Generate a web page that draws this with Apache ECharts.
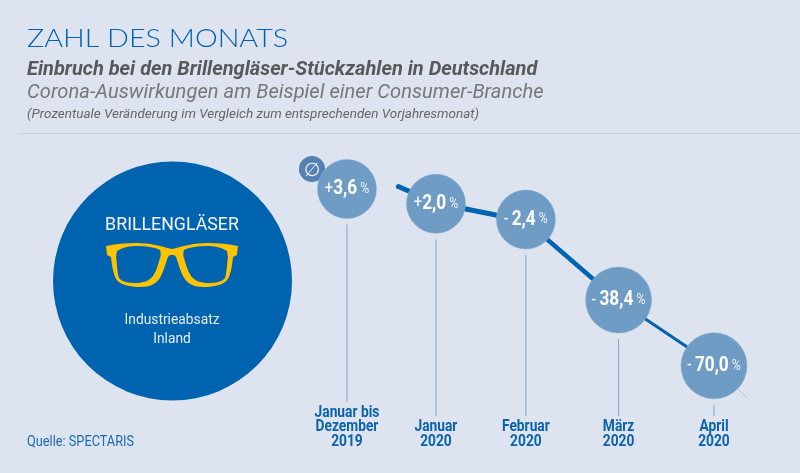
<!DOCTYPE html>
<html><head><meta charset="utf-8">
<style>html,body{margin:0;padding:0;background:#dde4ef}#c{width:800px;height:473px}</style>
<script src="https://cdn.jsdelivr.net/npm/echarts@6/dist/echarts.min.js"></script>
</head><body><div id="c"></div>
<script>
// Period labels
const categories = ['Januar bis\nDezember\n2019', 'Januar\n2020', 'Februar\n2020', 'März\n2020', 'April\n2020'];
// Printed change in percent
const changePercent = [3.6, 2.0, -2.4, -38.4, -70.0];
// The picture's layout is schematic, not proportional: slot and drop of each bubble
const slot = [0, 0.97, 1.95, 2.96, 4.0];
const drop = [15.6, 21.5, 27.8, 60, 86.3];
// Trend ribbon behind the bubbles
const trendSlot = [0.56, 0.97, 1.95, 2.96, 4.0, 4.36];
const trendDrop = [14.6, 21.2, 28.4, 60.4, 86, 99.2];
const trendWidth = [5, 5, 4.5, 3, 1];
const trendColor = ['#0063b0', '#0063b0', '#0063b0', '#0063b0', '#a9c4e0'];

const WHITE = '#fff', BLUE = '#0a62ae';
const ASC = 0.74; // distance from top of a text box to its baseline, per font size

function txt(text, x, base, size, weight, style, color, scaleX, family, align) {
  return {type: 'text', x, y: base - ASC * size, scaleX: scaleX || 1, z: 10, silent: true,
    style: {text, x: 0, y: 0, fill: color, align: align || 'left', verticalAlign: 'top',
      font: `${style} ${weight} ${size}px ${family || 'Roboto'}`}};
}
function toPath(cmds, m) {
  return cmds.map(p => p[0] + ' ' + p.slice(1).map((n, i) => i % 2 === 0 ? m(n) : n).join(' ')).join(' ');
}
const frame = [
  ['M', 172, 249], ['C', 160, 246, 150, 243, 137, 243], ['C', 125, 243, 115, 244, 106, 246],
  ['L', 107, 255], ['L', 111, 257], ['C', 112, 266, 113, 273, 116, 279], ['C', 120, 285, 130, 287, 140, 287],
  ['C', 150, 287, 157, 284, 161, 276], ['C', 164, 270, 166, 262, 168, 257], ['C', 169, 255, 171, 255, 172, 255], ['Z']
];
const lens = [
  ['M', 117, 251], ['C', 123, 247, 130, 246, 138, 246], ['C', 146, 246, 154, 247, 160, 250],
  ['C', 161, 253, 161, 256, 160, 258], ['C', 158, 264, 157, 270, 153, 276], ['C', 149, 281, 143, 283, 136, 283],
  ['C', 128, 283, 122, 282, 119, 278], ['C', 117, 272, 117, 262, 116, 257], ['Z']
];
const mirror = x => 344 - x, same = x => x;
echarts.graphic.registerShape('glassesFrame', echarts.graphic.extendPath(toPath(frame, same) + ' ' + toPath(frame, mirror)));
echarts.graphic.registerShape('glassesLens', echarts.graphic.extendPath(toPath(lens, same) + ' ' + toPath(lens, mirror)));

const bubbleRich = {
  sign: {fill: WHITE, font: '400 18px Roboto'},
  num: {fill: WHITE, font: '700 21px Roboto'},
  pct: {fill: '#eef3f9', font: '400 15px Roboto'}
};
function bubbleText(v) {
  const sign = v >= 0 ? '+' : '- ';
  return `{sign|${sign}}{num|${Math.abs(v).toFixed(1).replace('.', ',')}}{pct| %}`;
}

const chart = echarts.init(document.getElementById('c'));
chart.setOption({
  animation: false,
  backgroundColor: '#dde4ef',
  grid: {left: 301.1, right: 40.15, top: 150, bottom: 23},
  xAxis: {type: 'value', min: -0.5, max: 4.5, show: false},
  yAxis: {type: 'value', min: 0, max: 120, inverse: true, show: false},
  tooltip: {show: false},
  graphic: [
    {type: 'circle', shape: {cx: 172.5, cy: 281, r: 119.5}, style: {fill: '#0063b0'}, z: 1},
    {type: 'glassesFrame', style: {fill: '#fdc300'}, z: 2},
    {type: 'glassesLens', style: {fill: '#0063b0'}, z: 3},
    {type: 'line', shape: {x1: 20, y1: 133.5, x2: 800, y2: 133.5}, style: {stroke: '#b4bcc8', lineWidth: 1, lineDash: [1, 1]}, z: 1},
    txt('ZAHL DES MONATS', 27, 45, 25, 300, 'normal', '#0060b4', 1.15, 'Lato'),
    txt('Einbruch bei den Brillengläser-Stückzahlen in Deutschland', 27, 75, 20, 700, 'italic', '#58585a', 1),
    txt('Corona-Auswirkungen am Beispiel einer Consumer-Branche', 27, 98, 20, 400, 'italic', '#77777a', 1.008),
    txt('(Prozentuale Veränderung im Vergleich zum entsprechenden Vorjahresmonat)', 27, 118, 13, 400, 'italic', '#666669', 1.037),
    txt('BRILLENGLÄSER', 172, 230, 19, 400, 'normal', '#f4f7fb', 0.935, 'Roboto', 'center'),
    txt('Industrieabsatz', 172, 324, 15, 400, 'normal', '#e6edf6', 0.92, 'Roboto', 'center'),
    txt('Inland', 172, 343, 15, 400, 'normal', '#e6edf6', 0.92, 'Roboto', 'center'),
    txt('Quelle: SPECTARIS', 27, 446, 15, 400, 'normal', '#1a6ab5', 0.85, 'Roboto'),
    {type: 'circle', shape: {cx: 312, cy: 169, r: 13}, style: {fill: '#5480b3'}, z: 3},
    Object.assign(txt('∅', 312, 175.5, 19, 400, 'normal', '#eef2f8', 1, 'DejaVu Sans', 'center'), {z: 3})
  ],
  series: [
    {
      type: 'custom', coordinateSystem: 'cartesian2d', z: 4, silent: true,
      data: trendWidth.map((w, i) => [trendSlot[i], trendDrop[i], trendSlot[i + 1], trendDrop[i + 1], w]),
      renderItem(params, api) {
        const a = api.coord([api.value(0), api.value(1)]);
        const b = api.coord([api.value(2), api.value(3)]);
        return {type: 'line', shape: {x1: a[0], y1: a[1], x2: b[0], y2: b[1]},
          style: {stroke: trendColor[params.dataIndex], lineWidth: api.value(4), lineCap: 'round', fill: null}};
      }
    },
    {
      type: 'custom', coordinateSystem: 'cartesian2d', z: 4, silent: true,
      data: slot.map((x, i) => [x, drop[i], 120]),
      renderItem(params, api) {
        const i = params.dataIndex;
        const c = api.coord([api.value(0), api.value(1)]);
        const base = api.coord([api.value(0), api.value(2)]);
        const lines = categories[i].split('\n');
        const r = Math.abs(changePercent[i]) > 30 ? 33 : 29.5;
        const stemEnd = base[1] - lines.length * 14.5 - 5;
        const kids = [{type: 'line', shape: {x1: c[0], y1: c[1] + r + 6, x2: c[0], y2: stemEnd},
          style: {stroke: '#7aa5d2', lineWidth: 1}}];
        lines.forEach((t, k) => kids.push({type: 'text', x: c[0], scaleX: 0.86,
          y: base[1] - 4 - (lines.length - 1 - k) * 14.7 - ASC * 16, style: {
          text: t, x: 0, y: 0, fill: BLUE, align: 'center', verticalAlign: 'top',
          font: 'bold 16px Roboto'}}));
        return {type: 'group', children: kids};
      }
    },
    {
      type: 'scatter', z: 5, silent: true,
      data: slot.map((x, i) => [x, drop[i], changePercent[i]]),
      symbolSize: (v) => Math.abs(v[2]) > 30 ? 66 : 59,
      itemStyle: {color: '#6f9cc5', opacity: 1, borderColor: '#82aacd', borderWidth: 0.5}
    },
    {
      type: 'custom', coordinateSystem: 'cartesian2d', z: 6, silent: true,
      data: slot.map((x, i) => [x, drop[i], changePercent[i]]),
      renderItem(params, api) {
        const c = api.coord([api.value(0), api.value(1)]);
        return {type: 'text', x: c[0], y: c[1], scaleX: 0.82, style: {
          text: bubbleText(api.value(2)), x: 0, y: 0, align: 'center', verticalAlign: 'middle', rich: bubbleRich}};
      }
    }
  ]
});
</script></body></html>
